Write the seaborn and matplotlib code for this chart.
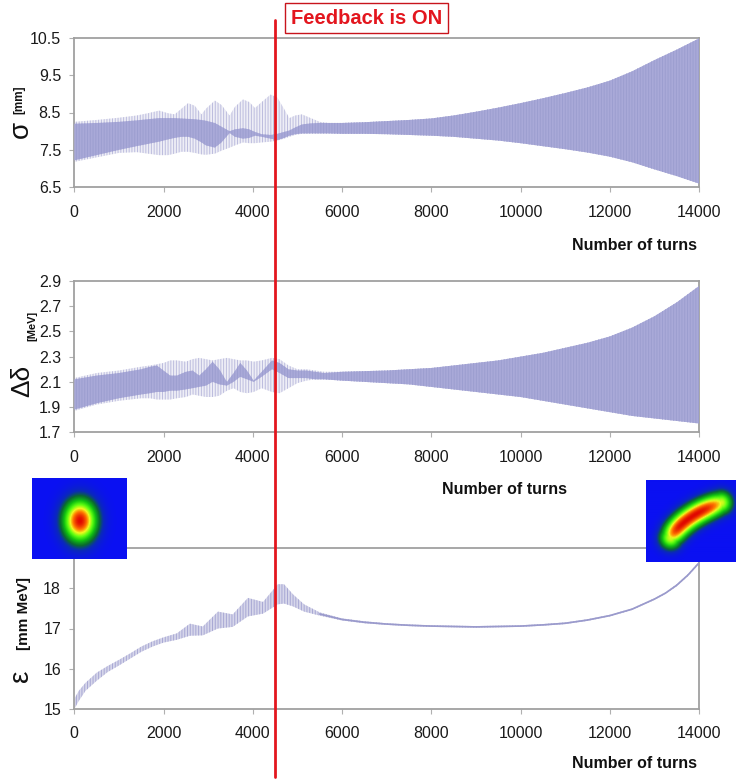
import numpy as np
import pandas as pd
import matplotlib
matplotlib.use("Agg")
import matplotlib.pyplot as plt
from matplotlib.lines import Line2D
from matplotlib.colors import LinearSegmentedColormap
import seaborn as sns

# ---------------- data ----------------
# Panel 1: sigma [mm]  (outer = light oscillation extremes, inner = dense dark band)
x_sig = [0, 500, 1000, 1400, 1650, 1900, 2100, 2250, 2400, 2550, 2700, 2850, 2950, 3150, 3300,
         3480, 3600, 3780, 3920, 4050, 4200, 4400, 4550, 4700, 4820, 4950, 5100, 5300, 5500, 5700,
         6000, 6500, 7000, 7500, 8000, 8500, 9000, 9500, 10000, 10500, 11000, 11500, 12000, 12500,
         13000, 13500, 14000]
sig_out_hi = [8.25, 8.30, 8.36, 8.42, 8.48, 8.55, 8.48, 8.45, 8.60, 8.75, 8.68, 8.45, 8.60, 8.82, 8.70,
              8.42, 8.65, 8.85, 8.78, 8.62, 8.78, 8.98, 8.90, 8.60, 8.35, 8.42, 8.45, 8.35, 8.25, 8.22,
              8.22, 8.24, 8.27, 8.30, 8.34, 8.42, 8.52, 8.63, 8.75, 8.88, 9.02, 9.17, 9.35, 9.60,
              9.90, 10.18, 10.48]
sig_out_lo = [7.18, 7.30, 7.42, 7.44, 7.40, 7.36, 7.36, 7.40, 7.45, 7.45, 7.42, 7.38, 7.37, 7.40, 7.48,
              7.56, 7.62, 7.70, 7.68, 7.68, 7.70, 7.72, 7.75, 7.80, 7.85, 7.90, 7.93, 7.94, 7.94, 7.94,
              7.93, 7.93, 7.92, 7.90, 7.88, 7.85, 7.80, 7.75, 7.68, 7.60, 7.52, 7.43, 7.32, 7.17,
              6.98, 6.80, 6.60]
sig_in_hi = [8.20, 8.22, 8.25, 8.29, 8.32, 8.35, 8.35, 8.35, 8.34, 8.33, 8.32, 8.30, 8.28, 8.22, 8.12,
             8.00, 8.05, 8.08, 8.05, 7.98, 7.92, 7.90, 7.93, 7.98, 8.02, 8.10, 8.18, 8.21, 8.22, 8.22,
             8.22, 8.24, 8.27, 8.30, 8.34, 8.42, 8.52, 8.63, 8.75, 8.88, 9.02, 9.17, 9.35, 9.60,
             9.90, 10.18, 10.48]
sig_in_lo = [7.22, 7.36, 7.50, 7.60, 7.66, 7.72, 7.78, 7.82, 7.85, 7.85, 7.80, 7.70, 7.62, 7.56, 7.70,
             7.95, 7.85, 7.80, 7.82, 7.88, 7.85, 7.80, 7.76, 7.82, 7.88, 7.92, 7.94, 7.94, 7.94, 7.94,
             7.93, 7.93, 7.92, 7.90, 7.88, 7.85, 7.80, 7.75, 7.68, 7.60, 7.52, 7.43, 7.32, 7.17,
             6.98, 6.80, 6.60]

# Panel 2: delta-delta [MeV]
x_dd = [0, 500, 1000, 1500, 1700, 1850, 2000, 2150, 2300, 2500, 2650, 2800, 2950, 3100, 3250,
        3420, 3570, 3720, 3870, 4020, 4200, 4430, 4600, 4800, 5000, 5200, 5400, 5600, 6000, 6500,
        7000, 7500, 8000, 8500, 9000, 9500, 10000, 10500, 11000, 11500, 12000, 12500, 13000,
        13500, 14000]
dd_out_hi = [2.13, 2.17, 2.19, 2.22, 2.23, 2.24, 2.25, 2.27, 2.27, 2.26, 2.28, 2.29, 2.28, 2.27, 2.28,
             2.29, 2.28, 2.27, 2.27, 2.26, 2.27, 2.29, 2.28, 2.23, 2.20, 2.20, 2.19, 2.18, 2.18, 2.185,
             2.19, 2.20, 2.21, 2.23, 2.25, 2.27, 2.30, 2.33, 2.37, 2.41, 2.46, 2.53, 2.62,
             2.73, 2.86]
dd_out_lo = [1.87, 1.92, 1.95, 1.97, 1.97, 1.96, 1.96, 1.96, 1.97, 1.98, 2.00, 1.99, 1.98, 1.98, 1.99,
             2.03, 2.05, 2.02, 2.01, 2.02, 2.05, 2.02, 2.01, 2.05, 2.09, 2.11, 2.12, 2.12, 2.11, 2.10,
             2.09, 2.08, 2.06, 2.04, 2.02, 2.00, 1.98, 1.95, 1.92, 1.89, 1.86, 1.83, 1.81,
             1.79, 1.77]
dd_in_hi = [2.12, 2.15, 2.17, 2.20, 2.22, 2.23, 2.19, 2.15, 2.15, 2.18, 2.19, 2.15, 2.20, 2.26, 2.20,
            2.10, 2.17, 2.25, 2.19, 2.11, 2.18, 2.27, 2.25, 2.20, 2.19, 2.19, 2.18, 2.17, 2.18, 2.185,
            2.19, 2.20, 2.21, 2.23, 2.25, 2.27, 2.30, 2.33, 2.37, 2.41, 2.46, 2.53, 2.62,
            2.73, 2.86]
dd_in_lo = [1.88, 1.93, 1.97, 2.00, 2.01, 2.02, 2.02, 2.03, 2.03, 2.04, 2.05, 2.06, 2.07, 2.10, 2.08,
            2.07, 2.10, 2.14, 2.12, 2.10, 2.14, 2.20, 2.17, 2.13, 2.13, 2.13, 2.12, 2.12, 2.11, 2.10,
            2.09, 2.08, 2.06, 2.04, 2.02, 2.00, 1.98, 1.95, 1.92, 1.89, 1.86, 1.83, 1.81,
            1.79, 1.77]

# Panel 3: emittance [mm MeV]
x_eps = [0, 100, 250, 500, 750, 1000, 1250, 1500, 1750, 2000, 2300, 2590, 2880, 3220, 3550,
         3890, 4230, 4560, 4700, 4900, 5150, 5500, 6000, 6500, 7000, 7500, 8000, 8500, 9000, 9500,
         10000, 10500, 11000, 11500, 12000, 12500, 13000, 13250, 13500, 13750, 14000]
eps_hi = [15.25, 15.45, 15.65, 15.90, 16.07, 16.22, 16.38, 16.55, 16.68, 16.78, 16.88, 17.12, 17.05,
          17.42, 17.35, 17.76, 17.66, 18.10, 18.10, 17.85, 17.60, 17.40, 17.25, 17.18, 17.13, 17.10,
          17.08, 17.07, 17.06, 17.07, 17.08, 17.11, 17.15, 17.23, 17.34, 17.50, 17.75, 17.90, 18.10,
          18.35, 18.66]
eps_lo = [15.00, 15.20, 15.45, 15.70, 15.92, 16.08, 16.25, 16.42, 16.55, 16.65, 16.72, 16.82, 16.83,
          17.00, 17.04, 17.30, 17.37, 17.60, 17.62, 17.55, 17.42, 17.32, 17.20, 17.13, 17.09, 17.06,
          17.04, 17.03, 17.02, 17.03, 17.04, 17.07, 17.11, 17.19, 17.30, 17.46, 17.71, 17.86, 18.05,
          18.30, 18.60]

x_ticks = [0, 2000, 4000, 6000, 8000, 10000, 12000, 14000]
sig_ticks = [6.5, 7.5, 8.5, 9.5, 10.5]
dd_ticks = [1.7, 1.9, 2.1, 2.3, 2.5, 2.7, 2.9]
eps_ticks = [15, 16, 17, 18]
feedback_turn = 4500
xlabel = "Number of turns"

# ---------------- style ----------------
sns.set_theme(style="white")
plt.rcParams["font.family"] = ["Liberation Sans", "DejaVu Sans"]
plt.rcParams["hatch.linewidth"] = 0.7

W, H = 736, 781
fig = plt.figure(figsize=(W / 100, H / 100), dpi=100)

def fax(left, top, right, bottom):
    return fig.add_axes([left / W, 1 - bottom / H, (right - left) / W, (bottom - top) / H])

ax1 = fax(74.3, 37.7, 699, 187.3)
ax2 = fax(74.3, 281, 699, 432.3)
ax3 = fax(74.3, 548, 699, 709)

LIGHT_FACE = "#eeeef6"
LIGHT_HATCH = "#bcbcde"
DARK_FACE = "#a9a9d8"
DARK_HATCH = "#9c9ed0"
SPINE = "#a0a0a0"

def style_axis(ax, yticks, ylim):
    ax.set_xlim(0, 14000)
    ax.set_ylim(*ylim)
    ax.set_xticks(x_ticks)
    ax.set_yticks(yticks)
    ax.set_xticklabels([str(t) for t in x_ticks])
    ax.set_yticklabels(["%g" % t for t in yticks])
    for s in ax.spines.values():
        s.set_color(SPINE)
        s.set_linewidth(1.3)
    ax.tick_params(axis="both", which="major", direction="out", length=3.5, width=0.8,
                   color="#b0b0b0", labelsize=11.5, labelcolor="#1a1a1a",
                   bottom=True, left=True)
    ax.tick_params(axis="x", pad=9)
    ax.tick_params(axis="y", pad=6)
    ax.set_xlabel("")
    ax.set_ylabel("")
    ax.grid(False)

def band(ax, x, out_lo, out_hi, in_lo, in_hi):
    ax.fill_between(x, out_lo, out_hi, facecolor=LIGHT_FACE, edgecolor=LIGHT_HATCH,
                    hatch="||||||", linewidth=0, zorder=2)
    ax.fill_between(x, in_lo, in_hi, facecolor=DARK_FACE, edgecolor=DARK_HATCH,
                    hatch="||||||", linewidth=0, zorder=3)

band(ax1, x_sig, sig_out_lo, sig_out_hi, sig_in_lo, sig_in_hi)
band(ax2, x_dd, dd_out_lo, dd_out_hi, dd_in_lo, dd_in_hi)
ax3.fill_between(x_eps, eps_lo, eps_hi, facecolor="#d6d6ea", edgecolor="#a8a8d4",
                 hatch="||||||", linewidth=0, zorder=2)
df_eps = pd.DataFrame({"turns": x_eps, "lo": eps_lo, "hi": eps_hi})
df_eps["mid"] = (df_eps["lo"] + df_eps["hi"]) / 2
sns.lineplot(data=df_eps[df_eps["turns"] >= 5500], x="turns", y="mid", ax=ax3,
             color="#9a9acc", linewidth=1.2, zorder=3)

style_axis(ax1, sig_ticks, (6.5, 10.5))
style_axis(ax2, dd_ticks, (1.7, 2.9))
style_axis(ax3, eps_ticks, (15, 19))

# x labels
fig.text(697 / W, 1 - 245 / H, xlabel, ha="right", va="center", fontsize=11.5, fontweight="bold", color="#111111")
fig.text(505 / W, 1 - 490 / H, xlabel, ha="center", va="center", fontsize=11.5, fontweight="bold", color="#111111")
fig.text(697 / W, 1 - 763 / H, xlabel, ha="right", va="center", fontsize=11.5, fontweight="bold", color="#111111")

# y labels (composite)
def ftxt(x, y, s, size, bold=False):
    fig.text(x / W, 1 - y / H, s, ha="center", va="center", rotation=90, fontsize=size,
             fontweight="bold" if bold else "normal", color="#111111")

ftxt(21, 129, "σ", 20)
ftxt(19, 100, "[mm]", 8.5, bold=True)
ftxt(22, 381, "Δδ", 19)
ftxt(32, 326, "[MeV]", 8, bold=True)
ftxt(21, 676, "ε", 20)
ftxt(24, 613, "[mm MeV]", 11, bold=True)

# red feedback line
xpix = ax1.transData.transform((feedback_turn, 0))[0]
xf = xpix / fig.bbox.width
fig.add_artist(Line2D([xf, xf], [1 - 20 / H, 1 - 777 / H], transform=fig.transFigure,
                      color="#e3161e", linewidth=2.0, zorder=10))
fig.text(366.5 / W, 1 - 18 / H, "Feedback is ON", ha="center", va="center", fontsize=14.5,
         fontweight="bold", color="#e3161e",
         bbox=dict(boxstyle="square,pad=0.28", facecolor="white", edgecolor="#c8141c", linewidth=1.0))

# inset beam images
cmap = LinearSegmentedColormap.from_list("beam", [
    (0.00, "#0a10f2"), (0.10, "#0a2ab8"), (0.20, "#0a6a30"), (0.35, "#10c010"),
    (0.52, "#60ff10"), (0.68, "#f0f820"), (0.82, "#ff7a00"), (1.00, "#e00800")])

def inset_round():
    h, w = 81, 95
    yy, xx = np.mgrid[0:h, 0:w]
    cx, cy = 0.50 * w, 0.52 * h
    return np.exp(-((xx - cx) ** 2 / (2 * 11.0 ** 2) + (yy - cy) ** 2 / (2 * 14.0 ** 2)))

def inset_banana():
    h, w = 81, 90
    yy, xx = np.mgrid[0:h, 0:w]
    t = np.linspace(0, 1, 200)
    p0, c, p2 = np.array([0.27, 0.30]), np.array([0.41, 0.56]), np.array([0.83, 0.72])
    pts = ((1 - t) ** 2)[:, None] * p0 + (2 * (1 - t) * t)[:, None] * c + (t ** 2)[:, None] * p2
    px = pts[:, 0] * w
    py = (1 - pts[:, 1]) * h
    d2 = (xx[..., None] - px) ** 2 + (yy[..., None] - py) ** 2
    idx = d2.argmin(axis=-1)
    dmin = np.sqrt(d2.min(axis=-1))
    s = t[idx]
    along = np.exp(-((s - 0.5) / 0.62) ** 4)
    return np.exp(-dmin ** 2 / (2 * 7.5 ** 2)) * along

for (l, t_, r, b), img in [((32, 478, 127, 559), inset_round()), ((646, 480, 736, 562), inset_banana())]:
    ia = fax(l, t_, r, b)
    ia.imshow(img, cmap=cmap, vmin=0, vmax=1, aspect="auto", interpolation="bilinear")
    ia.set_axis_off()
    ia.set_zorder(20)

fig.savefig("out.png", dpi=100)
